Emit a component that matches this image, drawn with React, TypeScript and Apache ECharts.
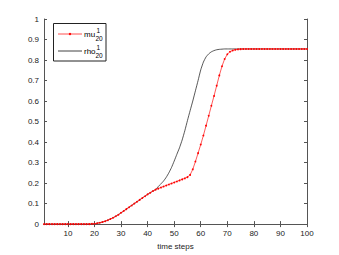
import React, { useEffect, useRef } from "react";
import * as echarts from "echarts";

const steps: number[] = Array.from({ length: 100 }, (_, i) => i + 1);

const common: number[] = [
  0, 0, 0, 0, 0, 0, 0, 0, 0, 0,
  0, 0, 0, 0, 0, 0, 0, 0, 0.001, 0.002,
  0.004, 0.007, 0.01, 0.014, 0.019, 0.025, 0.031, 0.038, 0.046, 0.055,
  0.064, 0.073, 0.082, 0.091, 0.1, 0.109, 0.118, 0.127, 0.136, 0.145,
  0.153, 0.161, 0.168,
];

const muTail: number[] = [
  0.173, 0.178, 0.183, 0.188, 0.193, 0.198, 0.203, 0.208, 0.213, 0.218,
  0.223, 0.229, 0.24, 0.267, 0.305, 0.346, 0.388, 0.432, 0.48, 0.528,
  0.577, 0.625, 0.675, 0.725, 0.77, 0.805, 0.828, 0.84, 0.846, 0.85,
  0.852, 0.853, 0.854, 0.854, 0.854, 0.854, 0.854, 0.854, 0.854, 0.854,
  0.854, 0.854, 0.854, 0.854, 0.854, 0.854, 0.854, 0.854, 0.854, 0.854,
  0.854, 0.854, 0.854, 0.854, 0.854, 0.854, 0.854,
];

const rhoTail: number[] = [
  0.183, 0.196, 0.21, 0.228, 0.25, 0.276, 0.307, 0.34, 0.372, 0.41,
  0.455, 0.505, 0.553, 0.6, 0.65, 0.7, 0.752, 0.79, 0.815, 0.83,
  0.84, 0.846, 0.85, 0.852, 0.853, 0.854, 0.854, 0.854, 0.854, 0.854,
  0.854, 0.854, 0.854, 0.854, 0.854, 0.854, 0.854, 0.854, 0.854, 0.854,
  0.854, 0.854, 0.854, 0.854, 0.854, 0.854, 0.854, 0.854, 0.854, 0.854,
  0.854, 0.854, 0.854, 0.854, 0.854, 0.854, 0.854,
];

const mu: number[] = common.concat(muTail);
const rho: number[] = common.concat(rhoTail);

const xTicks: number[] = [10, 20, 30, 40, 50, 60, 70, 80, 90, 100];
const xTitle = "time steps";

export default function App() {
  const ref = useRef<HTMLDivElement>(null);
  useEffect(() => {
    if (!ref.current) return;
    const chart = echarts.init(ref.current, null, { renderer: "svg" });
    const font = "Liberation Sans, Arial, sans-serif";
    const axisColor = "#555";
    const lbl = { color: "#222", fontSize: 8, fontFamily: font };
    const txt = (x: number, y: number, s: string, size: number) => ({
      type: "text",
      x,
      y,
      style: { text: s, fontSize: size, fontFamily: font, fill: "#000", textVerticalAlign: "middle" },
    });
    chart.setOption({
      animation: false,
      grid: { left: 44, right: 32, top: 19, bottom: 29 },
      xAxis: [
        {
          type: "value",
          min: 1,
          max: 100,
          name: xTitle,
          nameLocation: "middle",
          nameGap: 16,
          nameTextStyle: lbl,
          axisLine: { show: true, lineStyle: { color: axisColor, width: 1 } },
          axisTick: { show: true, inside: true, length: 3, customValues: xTicks, lineStyle: { color: axisColor } },
          axisLabel: { ...lbl, customValues: xTicks, margin: 5 },
          splitLine: { show: false },
        },
        {
          type: "value",
          position: "top",
          min: 1,
          max: 100,
          axisLine: { show: true, lineStyle: { color: axisColor, width: 1 } },
          axisTick: { show: true, inside: true, length: 3, customValues: xTicks, lineStyle: { color: axisColor } },
          axisLabel: { show: false },
          splitLine: { show: false },
        },
      ],
      yAxis: [
        {
          type: "value",
          min: 0,
          max: 1,
          interval: 0.1,
          axisLine: { show: true, lineStyle: { color: axisColor, width: 1 } },
          axisTick: { show: true, inside: true, length: 3, lineStyle: { color: axisColor } },
          axisLabel: { ...lbl, margin: 5, formatter: (v: number) => String(Math.round(v * 10) / 10) },
          splitLine: { show: false },
        },
        {
          type: "value",
          position: "right",
          min: 0,
          max: 1,
          interval: 0.1,
          axisLine: { show: true, lineStyle: { color: axisColor, width: 1 } },
          axisTick: { show: true, inside: true, length: 3, lineStyle: { color: axisColor } },
          axisLabel: { show: false },
          splitLine: { show: false },
        },
      ],
      series: [
        {
          name: "mu",
          type: "line",
          data: steps.map((s, i) => [s, mu[i]]),
          symbol: "circle",
          symbolSize: 1.8,
          showSymbol: true,
          itemStyle: { color: "#ff0000" },
          lineStyle: { color: "#ff3030", width: 0.8 },
          z: 3,
        },
        {
          name: "rho",
          type: "line",
          data: steps.map((s, i) => [s, rho[i]]),
          symbol: "none",
          smooth: 0.15,
          lineStyle: { color: "#111", width: 0.7 },
          z: 2,
        },
      ],
      graphic: [
        {
          type: "rect",
          shape: { x: 53.5, y: 23.5, width: 52.5, height: 37.5 },
          style: { fill: "#fff", stroke: "#222", lineWidth: 1 },
          z: 10,
        },
        {
          type: "line",
          shape: { x1: 58, y1: 34, x2: 82, y2: 34 },
          style: { stroke: "#ff5050", lineWidth: 1 },
          z: 11,
        },
        {
          type: "circle",
          shape: { cx: 70, cy: 34, r: 1.2 },
          style: { fill: "#ff0000" },
          z: 11,
        },
        {
          type: "line",
          shape: { x1: 58, y1: 51, x2: 82, y2: 51 },
          style: { stroke: "#111", lineWidth: 0.8 },
          z: 11,
        },
        { ...txt(84, 34, "mu", 8), z: 11 },
        { ...txt(96.5, 30.5, "1", 6.5), z: 11 },
        { ...txt(95.5, 38, "20", 6.5), z: 11 },
        { ...txt(84, 51, "rho", 8), z: 11 },
        { ...txt(96.5, 47.5, "1", 6.5), z: 11 },
        { ...txt(95.5, 55, "20", 6.5), z: 11 },
      ],
    });
    return () => chart.dispose();
  }, []);
  return <div ref={ref} style={{ width: 339, height: 255, position: "absolute", left: 0, top: 0 }} />;
}
